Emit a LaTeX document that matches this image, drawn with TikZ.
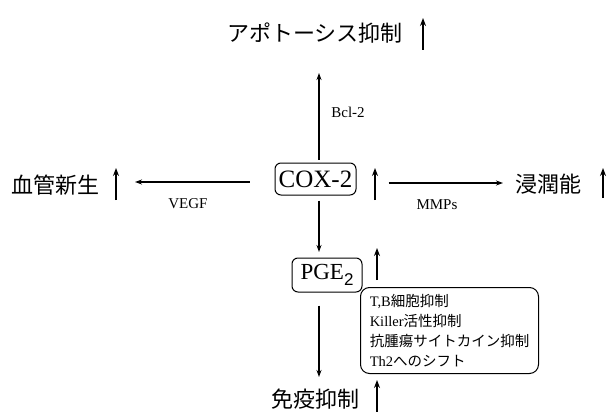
\documentclass[tikz,border=0pt]{standalone}
\usepackage{fontspec}
\setmainfont{Liberation Serif}
\setsansfont{Liberation Sans}
\newfontfamily\jp{Noto Sans CJK JP}
\usetikzlibrary{arrows.meta}
\begin{document}
\begin{tikzpicture}[x=1pt,y=-1pt,
  flow/.style={line width=1.3pt,-{Stealth[length=7pt,width=5pt]}},
  upmark/.style={line width=1.9pt,-{Stealth[length=8pt,width=6pt]}},
  big/.style={font=\jp\fontsize{22}{24}\selectfont, inner sep=0pt},
  lab/.style={font=\fontsize{15}{17}\selectfont, inner sep=0pt},
  rbox/.style={draw, line width=1pt, rounded corners=6pt}
]
\useasboundingbox (0,0) rectangle (613,412);

% main nodes
\node[big] (apop) at (315,33) {アポトーシス抑制};
\node[big] (angio) at (56,185) {血管新生};
\node[big] (inv) at (548,184) {浸潤能};
\node[big] (immune) at (315,399) {免疫抑制};

\node[rbox, inner sep=0pt, minimum width=81pt, minimum height=32pt,
      font=\fontsize{25}{28}\selectfont] (cox) at (315.5,179) {COX-2};
\node[rbox, inner sep=0pt, minimum width=70pt, minimum height=34pt,
      font=\fontsize{23}{26}\selectfont] (pge) at (327,275)
      {PGE\raisebox{-6pt}{\fontsize{17}{17}\selectfont\sffamily 2}};

\node[rbox, rounded corners=9pt, anchor=north west, inner xsep=9pt, inner ysep=6pt,
      minimum width=178pt, minimum height=86pt, align=left,
      font=\fontsize{14.5}{20}\selectfont] (info) at (360,287)
  {T,B{\jp 細胞抑制}\\Killer{\jp 活性抑制}\\{\jp 抗腫瘍サイトカイン抑制}\\Th2{\jp へのシフト}};

% labels
\node[lab] (bcl) at (348,112) {Bcl-2};
\node[lab] (vegf) at (188,204) {VEGF};
\node[lab] (mmps) at (437,205) {MMPs};

% connector end points
\coordinate (vx) at (319,0);
\coordinate (apopTip) at (319,73);
\coordinate (vegfTip) at (135,182);
\coordinate (mmpTip) at (503,183);
\coordinate (pgeTip) at (319,252);
\coordinate (imTip) at (319,377);

% connectors
\draw[flow, shorten <=3pt] (cox.north -| vx) -- (apopTip);
\draw[flow, shorten <=25pt] (cox.west |- vegfTip) -- (vegfTip);
\draw[flow, shorten <=32pt] (cox.east |- mmpTip) -- (mmpTip);
\draw[flow, shorten <=5pt] (cox.south -| vx) -- (pgeTip);
\draw[flow, shorten <=13pt] (pge.south -| vx) -- (imTip);

% up marks
\draw[upmark] (423,50) -- (423,18);
\draw[upmark] (116,200) -- (116,168);
\draw[upmark] (375,200) -- (375,168);
\draw[upmark] (603,198) -- (603,168);
\draw[upmark] (377,280) -- (377,248);
\draw[upmark] (377,412) -- (377,380);
\end{tikzpicture}
\end{document}
